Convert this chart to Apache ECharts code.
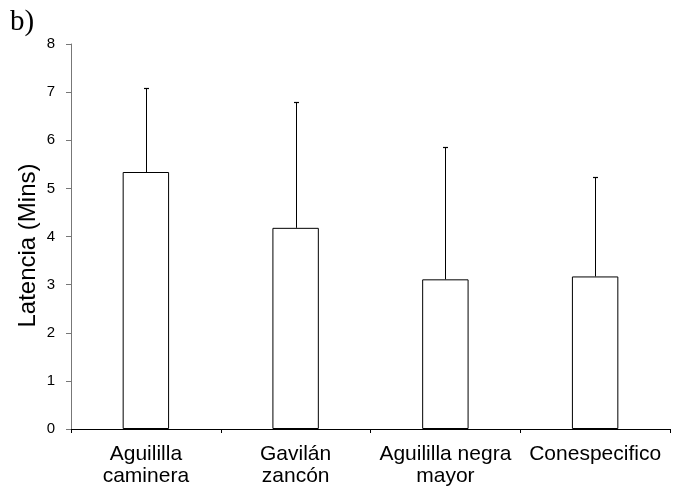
<!DOCTYPE html>
<html><head><meta charset="utf-8">
<script src="https://cdn.jsdelivr.net/npm/echarts@6/dist/echarts.min.js"></script>
<style>html,body{margin:0;padding:0;background:#fff}#c{width:673px;height:499px}</style>
</head><body><div id="c"></div>
<script>
const categories = ['Aguililla\ncaminera', 'Gavilán\nzancón', 'Aguililla negra\nmayor', 'Conespecifico'];
const means = [5.34, 4.18, 3.11, 3.17];
const upper = [7.08, 6.79, 5.86, 5.23];
const yTicks = [0, 1, 2, 3, 4, 5, 6, 7, 8];

const chart = echarts.init(document.getElementById('c'));
const font = 'Liberation Sans, Arial, sans-serif';
chart.setOption({
  animation: false,
  graphic: [{type: 'text', left: 10, top: 8, style: {text: 'b)', font: '29px "Liberation Serif", "Times New Roman", serif', fill: '#000'}}],
  grid: {left: 71, right: 3, top: 44, bottom: 70},
  xAxis: {
    type: 'category', data: categories, boundaryGap: true,
    axisLine: {lineStyle: {color: '#000', width: 1}},
    axisTick: {show: true, length: 4, lineStyle: {color: '#000'}},
    axisLabel: {color: '#000', fontSize: 21, fontFamily: font, margin: 14, lineHeight: 22, interval: 0}
  },
  yAxis: {
    type: 'value', min: yTicks[0], max: yTicks[yTicks.length - 1], interval: 1,
    name: 'Latencia (Mins)', nameLocation: 'middle', nameGap: 31, nameMoveOverlap: false,
    nameTextStyle: {color: '#000', fontSize: 24, fontFamily: font, padding: [0, 18, 0, 0]},
    axisLine: {show: true, lineStyle: {color: '#777', width: 1}},
    axisTick: {show: true, length: 5, lineStyle: {color: '#777'}},
    splitLine: {show: false},
    axisLabel: {color: '#000', fontSize: 15, fontFamily: font, margin: 16}
  },
  series: [
    {
      type: 'bar', data: means, barWidth: '31%',
      itemStyle: {color: '#fff', borderColor: '#000', borderWidth: 1}
    },
    {
      type: 'custom',
      data: upper.map((u, i) => [i, means[i], u]),
      renderItem: function (params, api) {
        const i = api.value(0);
        const lo = api.coord([i, api.value(1)]);
        const hi = api.coord([i, api.value(2)]);
        const x = Math.round(lo[0]) + 0.5;
        return {type: 'group', children: [
          {type: 'line', shape: {x1: x, y1: lo[1], x2: x, y2: hi[1]}, style: {stroke: '#000', lineWidth: 1}},
          {type: 'line', shape: {x1: x - 2.5, y1: Math.round(hi[1]) + 0.5, x2: x + 2.5, y2: Math.round(hi[1]) + 0.5}, style: {stroke: '#000', lineWidth: 1.2}}
        ]};
      },
      z: 3
    }
  ]
});
</script></body></html>
